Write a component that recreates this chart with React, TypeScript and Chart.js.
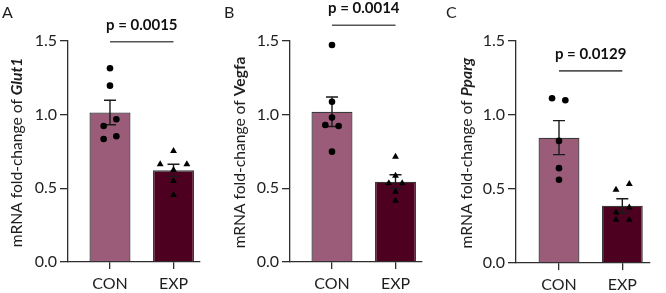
import React, { useEffect, useRef } from "react";
import { Chart, registerables } from "chart.js";

Chart.register(...registerables);

// ---------- data ----------
const categories = ["CON", "EXP"];
const panelLetters = ["A", "B", "C"];
const genes = ["Glut1", "Vegfa", "Pparg"];
const geneItalic = [true, false, true];
const yTickValues = [0, 0.5, 1.0, 1.5];
const pValues = ["p = 0.0015", "p = 0.0014", "p = 0.0129"];
const pLineY = [1.495, 1.607, 1.298];

// panel A (Glut1)
const meansA = [1.015, 0.622];
const semA = [0.083, 0.041];
const conA = [1.315, 1.197, 0.969, 0.923, 0.835, 0.853];
const conJitA = [0, 0, 0.1, -0.1, -0.1, 0.1];
const expA = [0.754, 0.663, 0.663, 0.625, 0.55, 0.455];
const expJitA = [0, -0.21, 0.21, 0, 0, 0];

// panel B (Vegfa)
const meansB = [1.02, 0.545];
const semB = [0.1, 0.047];
const conB = [1.473, 1.088, 0.98, 0.93, 0.923, 0.749];
const conJitB = [0, 0, 0, -0.105, 0.105, 0];
const expB = [0.715, 0.586, 0.534, 0.534, 0.477, 0.416];
const expJitB = [0, 0, -0.105, 0.105, 0, 0];

// panel C (Pparg)
const meansC = [0.847, 0.387];
const semC = [0.115, 0.047];
const conC = [1.113, 1.1, 0.825, 0.641, 0.562];
const conJitC = [-0.11, 0.1, 0, 0, 0];
const expC = [0.495, 0.533, 0.375, 0.341, 0.292, 0.292];
const expJitC = [-0.1, 0.11, 0.11, -0.1, -0.1, 0.11];

const panels = [
  { means: meansA, sem: semA, con: conA, conJit: conJitA, exp: expA, expJit: expJitA },
  { means: meansB, sem: semB, con: conB, conJit: conJitB, exp: expB, expJit: expJitB },
  { means: meansC, sem: semC, con: conC, conJit: conJitC, exp: expC, expJit: expJitC },
];

// ---------- layout / style ----------
const W = 222;
const H = 293;
const layouts = [
  { left: 68, right: 200, top: 41, bottom: 262, xMin: -0.661, xMax: 1.417, titleX: 16.5 },
  { left: 68, right: 200, top: 41, bottom: 262, xMin: -0.661, xMax: 1.417, titleX: 17.5 },
  { left: 72, right: 206, top: 41, bottom: 263, xMin: -0.679, xMax: 1.437, titleX: 23 },
];
const CON_COLOR = "#9a5c79";
const EXP_COLOR = "#4e0021";
const AXIS_COLOR = "#2e2e2e";
const TEXT_COLOR = "#1e1e1e";
const FONT = "Lato";

function makeOverlay(i: number) {
  const d = panels[i];
  const lay = layouts[i];
  return {
    id: "overlay" + i,
    afterDatasetDraw(chart: any, args: any) {
      if (args.index !== 0) return;
      const { ctx } = chart;
      const xs = chart.scales.x;
      const ys = chart.scales.y;
      ctx.save();
      ctx.strokeStyle = "#1a1a1a";
      ctx.lineWidth = 1.4;
      d.means.forEach((m: number, k: number) => {
        const px = xs.getPixelForValue(k);
        const top = ys.getPixelForValue(m + d.sem[k]);
        const bot = ys.getPixelForValue(m - d.sem[k]);
        ctx.beginPath();
        ctx.moveTo(px, top);
        ctx.lineTo(px, bot);
        ctx.moveTo(px - 6, top);
        ctx.lineTo(px + 6, top);
        ctx.moveTo(px - 6, bot);
        ctx.lineTo(px + 6, bot);
        ctx.stroke();
      });
      ctx.restore();
    },
    afterDraw(chart: any) {
      const { ctx } = chart;
      const xs = chart.scales.x;
      const ys = chart.scales.y;
      // significance line + p value
      const x0 = xs.getPixelForValue(0);
      const x1 = xs.getPixelForValue(1);
      const ly = ys.getPixelForValue(pLineY[i]);
      ctx.save();
      ctx.strokeStyle = "#555555";
      ctx.lineWidth = 1.6;
      ctx.beginPath();
      ctx.moveTo(x0, ly);
      ctx.lineTo(x1, ly);
      ctx.stroke();
      ctx.fillStyle = "#111111";
      ctx.font = `bold 15px ${FONT}`;
      ctx.textAlign = "center";
      ctx.textBaseline = "alphabetic";
      ctx.fillText(pValues[i], (x0 + x1) / 2, ly - 12);
      ctx.restore();

      // y axis title (mixed fonts)
      const pre = "mRNA fold-change of ";
      const gene = genes[i];
      const fs = 15.6;
      const f1 = `${fs}px ${FONT}`;
      const f2 = `${geneItalic[i] ? "italic " : ""}bold ${fs}px ${FONT}`;
      ctx.save();
      ctx.translate(lay.titleX, (lay.top + lay.bottom) / 2 + 1);
      ctx.rotate(-Math.PI / 2);
      ctx.font = f1;
      const w1 = ctx.measureText(pre).width;
      ctx.font = f2;
      const w2 = ctx.measureText(gene).width;
      const sx = -(w1 + w2) / 2;
      ctx.textAlign = "left";
      ctx.textBaseline = "middle";
      ctx.fillStyle = TEXT_COLOR;
      ctx.font = f1;
      ctx.fillText(pre, sx, 0);
      ctx.font = f2;
      ctx.fillText(gene, sx + w1, 0);
      ctx.restore();
    },
  };
}

function Panel({ idx }: { idx: number }) {
  const ref = useRef<HTMLCanvasElement | null>(null);
  useEffect(() => {
    if (!ref.current) return;
    const d = panels[idx];
    const lay = layouts[idx];
    const chart = new Chart(ref.current, {
      type: "bar",
      data: {
        datasets: [
          {
            type: "bar",
            data: d.means.map((m, k) => ({ x: k, y: m })),
            backgroundColor: [CON_COLOR, EXP_COLOR],
            borderColor: "#3a3a3a",
            borderWidth: 1.3,
            categoryPercentage: 1,
            barPercentage: 0.646,
            order: 2,
          } as any,
          {
            type: "scatter",
            data: d.con.map((v, k) => ({ x: 0 + d.conJit[k], y: v })),
            backgroundColor: "#000",
            borderColor: "#000",
            pointStyle: "circle",
            pointRadius: 3.3,
            borderWidth: 0,
            order: 0,
          } as any,
          {
            type: "scatter",
            data: d.exp.map((v, k) => ({ x: 1 + d.expJit[k], y: v })),
            backgroundColor: "#000",
            borderColor: "#000",
            pointStyle: "triangle",
            pointRadius: 4,
            borderWidth: 0,
            order: 0,
          } as any,
        ],
      },
      options: {
        responsive: false,
        animation: false,
        events: [],
        layout: { padding: { top: lay.top, right: W - lay.right, left: 0, bottom: 0 } },
        plugins: { legend: { display: false }, tooltip: { enabled: false }, title: { display: false } },
        scales: {
          x: {
            type: "linear",
            offset: false,
            min: lay.xMin,
            max: lay.xMax,
            afterBuildTicks: (s: any) => {
              s.ticks = categories.map((_, k) => ({ value: k }));
            },
            afterFit: (s: any) => {
              s.height = H - lay.bottom;
            },
            ticks: {
              callback: (v: any) => categories[v as number] ?? "",
              font: { family: FONT, size: 16 },
              color: TEXT_COLOR,
              padding: 5,
              maxRotation: 0,
              autoSkip: false,
            },
            grid: { offset: false, drawOnChartArea: false, drawTicks: true, tickLength: 7, color: AXIS_COLOR, lineWidth: 1.3 },
            border: { display: true, color: AXIS_COLOR, width: 1.3 },
          },
          y: {
            type: "linear",
            min: 0,
            max: 1.5,
            afterBuildTicks: (s: any) => {
              s.ticks = yTickValues.map((v) => ({ value: v }));
            },
            afterFit: (s: any) => {
              s.width = lay.left;
            },
            ticks: {
              callback: (v: any) => Number(v).toFixed(1),
              font: { family: FONT, size: 16 },
              color: TEXT_COLOR,
              padding: 3,
            },
            grid: { drawOnChartArea: false, drawTicks: true, tickLength: 8, color: AXIS_COLOR, lineWidth: 1.3 },
            border: { display: true, color: AXIS_COLOR, width: 1.3 },
          },
        },
      },
      plugins: [makeOverlay(idx)],
    });
    return () => chart.destroy();
  }, [idx]);
  return (
    <div style={{ position: "absolute", left: idx * W, top: 0, width: W, height: H }}>
      <canvas ref={ref} width={W} height={H} style={{ width: W, height: H, display: "block" }} />
      <div
        style={{
          position: "absolute",
          left: 2,
          top: 4,
          fontFamily: FONT,
          fontSize: 16,
          lineHeight: "16px",
          color: TEXT_COLOR,
        }}
      >
        {panelLetters[idx]}
      </div>
    </div>
  );
}

export default function App() {
  return (
    <div style={{ position: "absolute", left: 0, top: 0, width: 666, height: 293, background: "#fff", overflow: "hidden" }}>
      {[0, 1, 2].map((i) => (
        <Panel key={i} idx={i} />
      ))}
    </div>
  );
}
